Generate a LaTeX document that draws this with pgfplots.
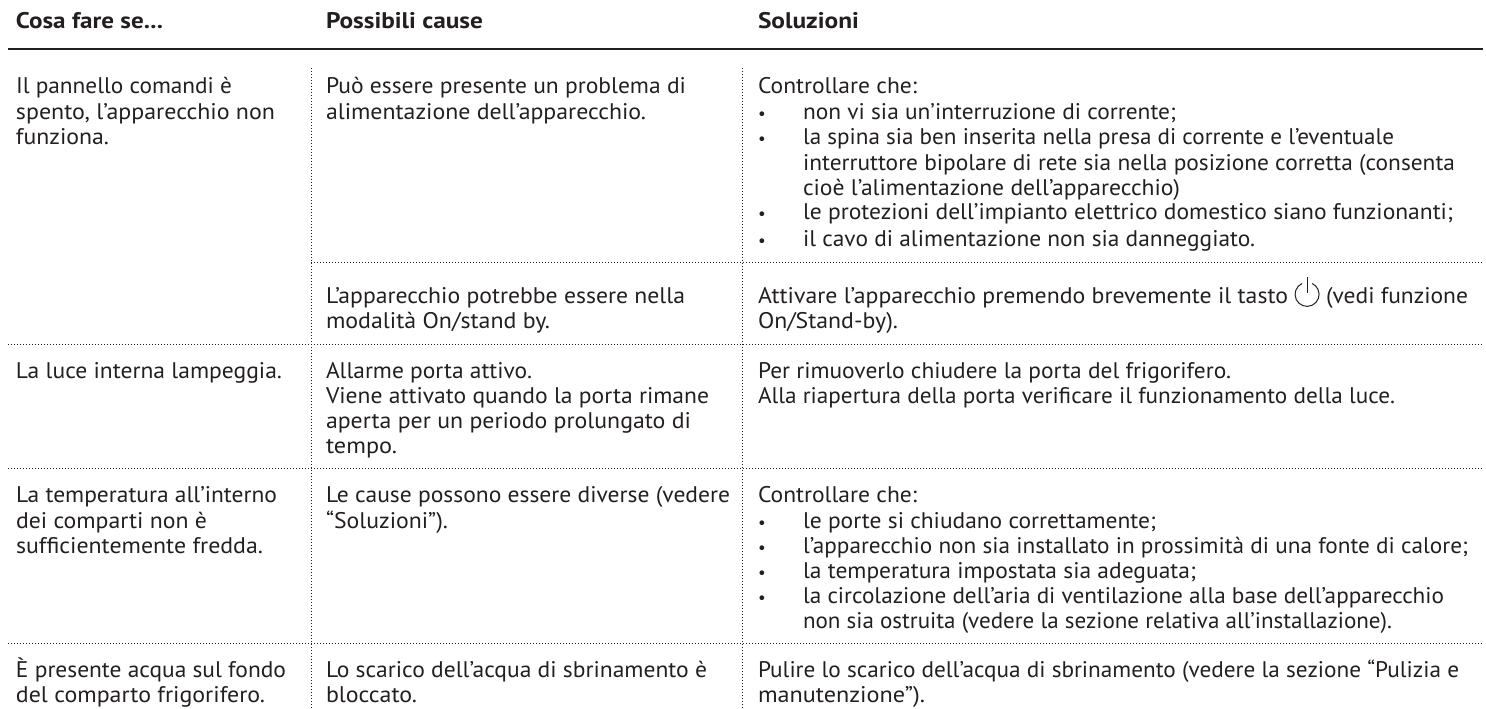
\documentclass[border=0pt]{standalone}
\usepackage{pgfplots}
\pgfplotsset{compat=1.18}
\usepackage{graphicx}
\usepackage{fontspec}
\setmainfont{PT Sans}
\definecolor{ink}{HTML}{231F20}
\newcommand{\F}[4]{\node[anchor=base west,inner sep=0pt,outer sep=0pt,text=ink,font=\fontsize{11.3pt}{12pt}\selectfont] at (axis cs:#1,#2) {\resizebox{\dimexpr#3pt/2\relax}{\height}{#4}};}
\newcommand{\B}[4]{\node[anchor=base west,inner sep=0pt,outer sep=0pt,text=ink,font=\fontsize{11.3pt}{12pt}\selectfont\bfseries] at (axis cs:#1,#2) {\resizebox{\dimexpr#3pt/2\relax}{\height}{#4}};}
\newcommand{\Bul}[2]{\node[anchor=base west,inner sep=0pt,outer sep=0pt,text=ink,font=\fontsize{8.5pt}{12pt}\selectfont] at (axis cs:#1,#2) {•};}
\begin{document}
\begin{tikzpicture}
\begin{axis}[
  scale only axis, width=743pt, height=354pt,
  xmin=0, xmax=1486, ymin=0, ymax=708, y dir=reverse,
  hide axis, clip=false,
  dots/.style={ink, line width=0.45pt, dash pattern=on 0.5pt off 1pt, forget plot, no marks},
]
\path (axis cs:0,0) rectangle (axis cs:1486,708);
% header rule
\addplot[ink, line width=1.1pt, no marks] coordinates {(8,49) (1483,49)};
% horizontal dotted rules
\addplot[dots] coordinates {(311,262) (1483,262)};
\addplot[dots] coordinates {(8,344) (1483,344)};
\addplot[dots] coordinates {(8,468) (1483,468)};
\addplot[dots] coordinates {(8,643) (1483,643)};
% vertical dotted rules
\addplot[dots] coordinates {(311,68) (311,708)};
\addplot[dots] coordinates {(742,68) (742,708)};
% header
\B{16}{29}{147}{Cosa fare se...}
\B{326}{29}{157}{Possibili cause}
\B{758}{29}{101}{Soluzioni}
% column 1
\F{16}{94}{216}{Il pannello comandi è}
\F{16}{120}{259}{spento, l'apparecchio non}
\F{16}{145}{93}{funziona.}
\F{16}{378}{266}{La luce interna lampeggia.}
\F{16}{502}{261}{La temperatura all'interno}
\F{16}{528}{191}{dei comparti non è}
\F{16}{553}{247}{sufficientemente fredda.}
\F{16}{677}{270}{È presente acqua sul fondo}
\F{16}{702}{249}{del comparto frigorifero.}
% column 2
\F{326}{94}{360}{Può essere presente un problema di}
\F{326}{120}{320}{alimentazione dell'apparecchio.}
\F{326}{303}{359}{L’apparecchio potrebbe essere nella}
\F{326}{328}{224}{modalità On/stand by.}
\F{326}{378}{206}{Allarme porta attivo.}
\F{326}{403}{383}{Viene attivato quando la porta rimane}
\F{326}{428}{365}{aperta per un periodo prolungato di}
\F{326}{453}{71}{tempo.}
\F{326}{502}{404}{Le cause possono essere diverse (vedere}
\F{326}{528}{122}{“Soluzioni”).}
\F{326}{677}{381}{Lo scarico dell’acqua di sbrinamento è}
\F{326}{702}{91}{bloccato.}
% column 3
\F{758}{94}{159}{Controllare che:}
\Bul{758}{120}\F{803}{120}{373}{non vi sia un’interruzione di corrente;}
\Bul{758}{145}\F{803}{145}{591}{la spina sia ben inserita nella presa di corrente e l’eventuale}
\F{803}{170}{652}{interruttore bipolare di rete sia nella posizione corretta (consenta}
\F{803}{196}{377}{cioè l’alimentazione dell’apparecchio)}
\Bul{758}{220}\F{803}{220}{650}{le protezioni dell’impianto elettrico domestico siano funzionanti;}
\Bul{758}{246}\F{803}{246}{452}{il cavo di alimentazione non sia danneggiato.}
\F{758}{303}{530}{Attivare l’apparecchio premendo brevemente il tasto}
\F{1326}{303}{142}{(vedi funzione}
\F{758}{328}{140}{On/Stand-by).}
\F{758}{378}{473}{Per rimuoverlo chiudere la porta del frigorifero.}
\F{758}{403}{637}{Alla riapertura della porta verificare il funzionamento della luce.}
\F{758}{502}{159}{Controllare che:}
\Bul{758}{528}\F{803}{528}{353}{le porte si chiudano correttamente;}
\Bul{758}{553}\F{803}{553}{665}{l’apparecchio non sia installato in prossimità di una fonte di calore;}
\Bul{758}{578}\F{803}{578}{393}{la temperatura impostata sia adeguata;}
\Bul{758}{603}\F{803}{603}{641}{la circolazione dell’aria di ventilazione alla base dell’apparecchio}
\F{803}{628}{589}{non sia ostruita (vedere la sezione relativa all'installazione).}
\F{758}{677}{701}{Pulire lo scarico dell’acqua di sbrinamento (vedere la sezione “Pulizia e}
\F{758}{702}{167}{manutenzione”).}
% power icon
\addplot[ink, line width=0.5pt, no marks] coordinates {(1307,277) (1307,293)};
\draw[ink, line width=0.5pt] (axis cs:1302,283.5) arc[start angle=115, end angle=425, radius=6pt];
\end{axis}
\end{tikzpicture}
\end{document}
